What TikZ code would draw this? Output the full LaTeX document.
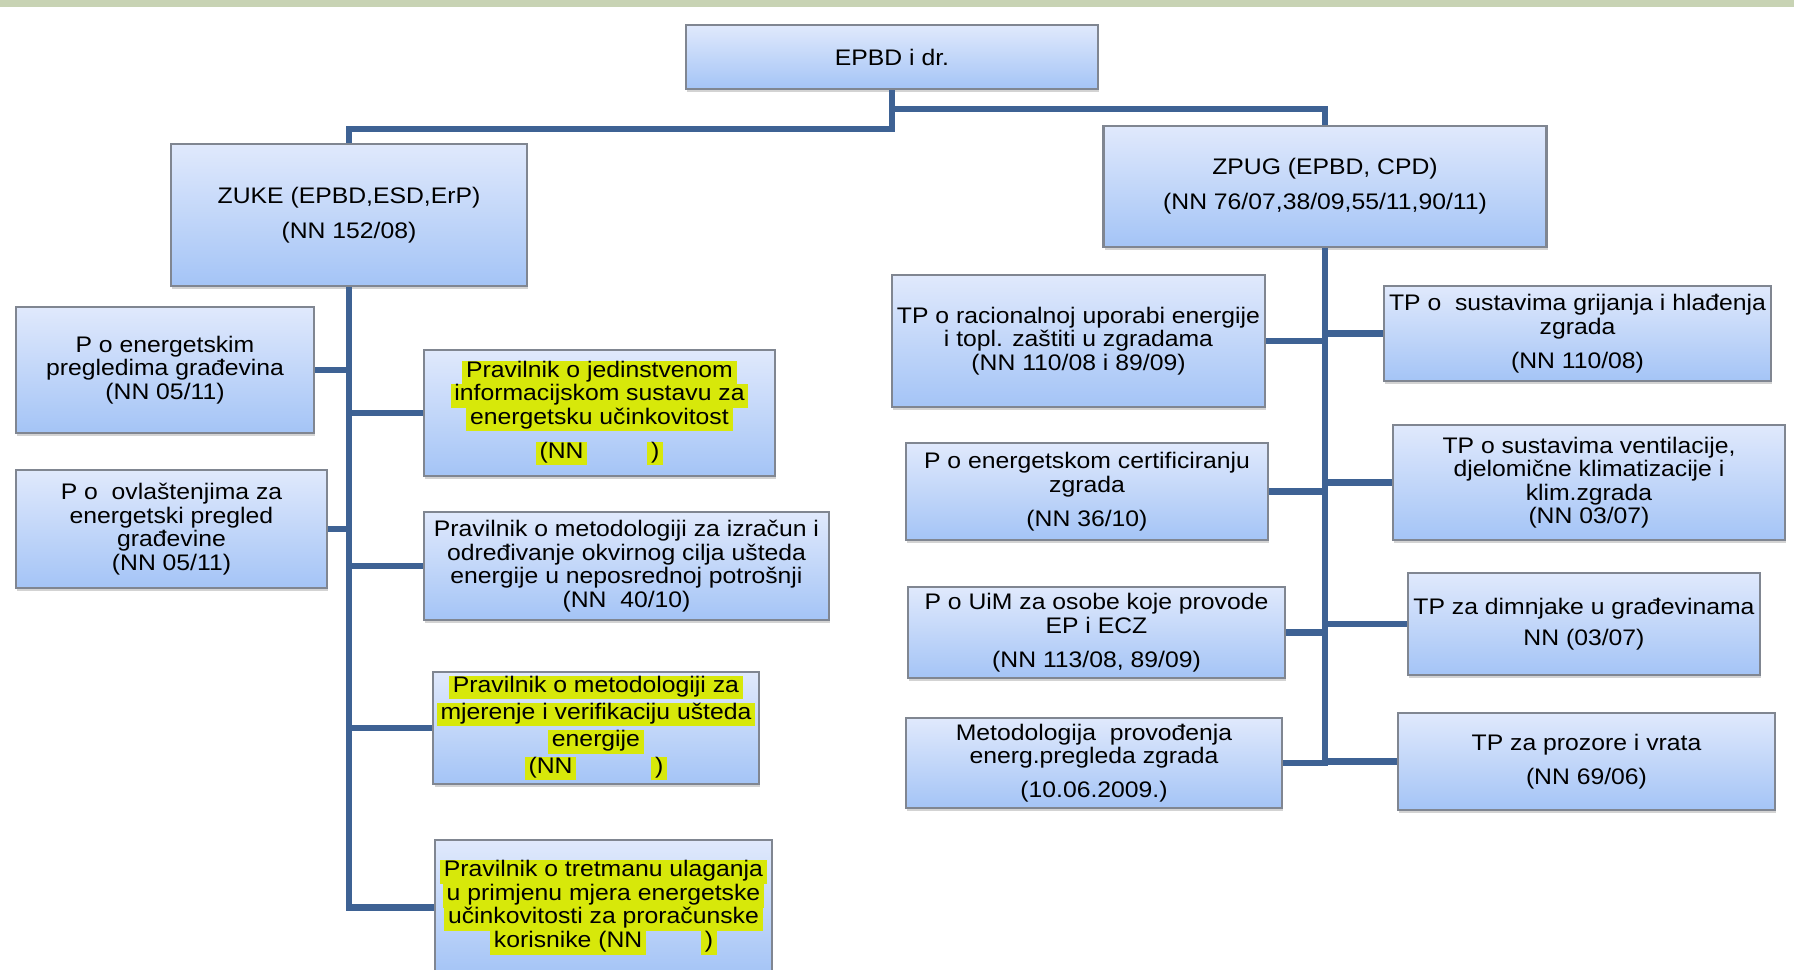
\documentclass[tikz,border=0pt]{standalone}
\usepackage{fontspec}
\setmainfont{Liberation Sans}[FakeStretch=1.1]
\usepackage{tikz}
\usetikzlibrary{arrows,shapes,positioning,shadows}
\usepackage{xcolor}
\definecolor{connblue}{RGB}{62,98,148}
\definecolor{boxtop}{RGB}{224,233,252}
\definecolor{boxbottom}{RGB}{164,196,246}
\definecolor{boxborder}{RGB}{128,134,145}
\definecolor{hlyellow}{RGB}{215,232,10}
\definecolor{bandgreen}{RGB}{200,211,180}
\tikzstyle{conn} = [line width=1.85pt, draw=connblue]
\tikzstyle{lawbox} = [rectangle, draw=boxborder, line width=0.6pt, top color=boxtop, bottom color=boxbottom, align=center, inner sep=1pt, drop shadow={shadow xshift=0.4pt, shadow yshift=-0.9pt, opacity=0.35}]
\newcommand{\hl}[1]{{\setlength{\fboxsep}{0pt}\colorbox{hlyellow}{\strut\,#1\,}}}

\begin{document}
\begin{tikzpicture}[font=\fontsize{6.4}{6.7}\selectfont]
\useasboundingbox (0,0) rectangle (17.94,-9.70);
\fill[bandgreen] (0,0) rectangle (17.94,-0.07);

% Top
\node[lawbox, minimum width=4.12cm, minimum height=0.64cm] (epbd) at (8.92,-0.57) {EPBD i dr.};

% Two laws
\node[lawbox, minimum width=3.56cm, minimum height=1.42cm] (zuke) at (3.49,-2.15) {ZUKE (EPBD,ESD,ErP)\\[3.3pt] (NN 152/08)};
\node[lawbox, minimum width=4.43cm, minimum height=1.21cm] (zpug) at (13.25,-1.865) {ZPUG (EPBD, CPD)\\[3.3pt] (NN 76/07,38/09,55/11,90/11)};

% ZUKE regulations
\node[lawbox, minimum width=2.98cm, minimum height=1.26cm] (energ) at (1.65,-3.70) {P o energetskim\\ pregledima građevina\\ (NN 05/11)};
\node[lawbox, minimum width=3.11cm, minimum height=1.18cm] (ovlast) at (1.715,-5.29) {P o\ \ ovlaštenjima za\\ energetski pregled\\ građevine\\ (NN 05/11)};
\node[lawbox, minimum width=3.51cm, minimum height=1.26cm] (jedin) at (5.995,-4.13) {\hl{Pravilnik o jedinstvenom}\\ \hl{informacijskom sustavu za}\\ \hl{energetsku učinkovitost}\\[3pt] \hl{(NN}\hspace{0.6cm}\hl{)}};
\node[lawbox, minimum width=4.05cm, minimum height=1.08cm] (izracun) at (6.265,-5.66) {Pravilnik o metodologiji za izračun i\\ određivanje okvirnog cilja ušteda\\ energije u neposrednoj potrošnji\\ (NN\ \ 40/10)};
\node[lawbox, minimum width=3.22cm, minimum height=1.10cm] (mjeren) at (5.96,-7.28) {\hl{Pravilnik o metodologiji za}\\[1pt] \hl{mjerenje i verifikaciju ušteda}\\[1.2pt] \hl{energije}\\[0.8pt] \hl{(NN}\hspace{0.75cm}\hl{)}};
\node[lawbox, minimum width=3.37cm, minimum height=1.35cm] (tretman) at (6.035,-9.075) {\hl{Pravilnik o tretmanu ulaganja}\\ \hl{u primjenu mjera energetske}\\ \hl{učinkovitosti za proračunske}\\ \hl{korisnike (NN}\hspace{0.55cm}\hl{)}};

% ZPUG regulations
\node[lawbox, minimum width=3.73cm, minimum height=1.32cm] (racional) at (10.785,-3.41) {TP o racionalnoj uporabi energije\\ i topl. zaštiti u zgradama\\ (NN 110/08 i 89/09)};
\node[lawbox, minimum width=3.87cm, minimum height=0.95cm] (grijanja) at (15.775,-3.335) {TP o\ \ sustavima grijanja i hlađenja\\ zgrada\\[3pt] (NN 110/08)};
\node[lawbox, minimum width=3.62cm, minimum height=0.97cm] (certif) at (10.87,-4.915) {P o energetskom certificiranju\\ zgrada\\[3pt] (NN 36/10)};
\node[lawbox, minimum width=3.92cm, minimum height=1.15cm] (ventil) at (15.89,-4.825) {TP o sustavima ventilacije,\\ djelomične klimatizacije i\\ klim.zgrada\\ (NN 03/07)};
\node[lawbox, minimum width=3.77cm, minimum height=0.91cm] (uim) at (10.965,-6.325) {P o UiM za osobe koje provode\\ EP i ECZ\\[3pt] (NN 113/08, 89/09)};
\node[lawbox, minimum width=3.52cm, minimum height=1.02cm] (dimnjak) at (15.84,-6.24) {TP za dimnjake u građevinama\\[2pt] NN (03/07)};
\node[lawbox, minimum width=3.76cm, minimum height=0.90cm] (metod) at (10.94,-7.63) {Metodologija\ \ provođenja\\ energ.pregleda zgrada\\[3pt] (10.06.2009.)};
\node[lawbox, minimum width=3.77cm, minimum height=0.97cm] (prozori) at (15.865,-7.615) {TP za prozore i vrata\\[3pt] (NN 69/06)};

\draw[conn] (epbd.south) -- ++(0,-0.39) -| (zuke.north);
\draw[conn] (epbd.south) ++(0,-0.19) -| (zpug.north);

\draw[conn] (zuke.south) |- (tretman.west);
\draw[conn] (zuke.south) |- (energ.east);
\draw[conn] (zuke.south) |- (ovlast.east);
\draw[conn] (zuke.south) |- (jedin.west);
\draw[conn] (zuke.south) |- (izracun.west);
\draw[conn] (zuke.south) |- (mjeren.west);

\draw[conn] (zpug.south) |- (metod.east);
\draw[conn] (zpug.south) |- (racional.east);
\draw[conn] (zpug.south) |- (certif.east);
\draw[conn] (zpug.south) |- (uim.east);
\draw[conn] (zpug.south) |- (grijanja.west);
\draw[conn] (zpug.south) |- (ventil.west);
\draw[conn] (zpug.south) |- (dimnjak.west);
\draw[conn] (zpug.south) |- (prozori.west);
\end{tikzpicture}
\end{document}
